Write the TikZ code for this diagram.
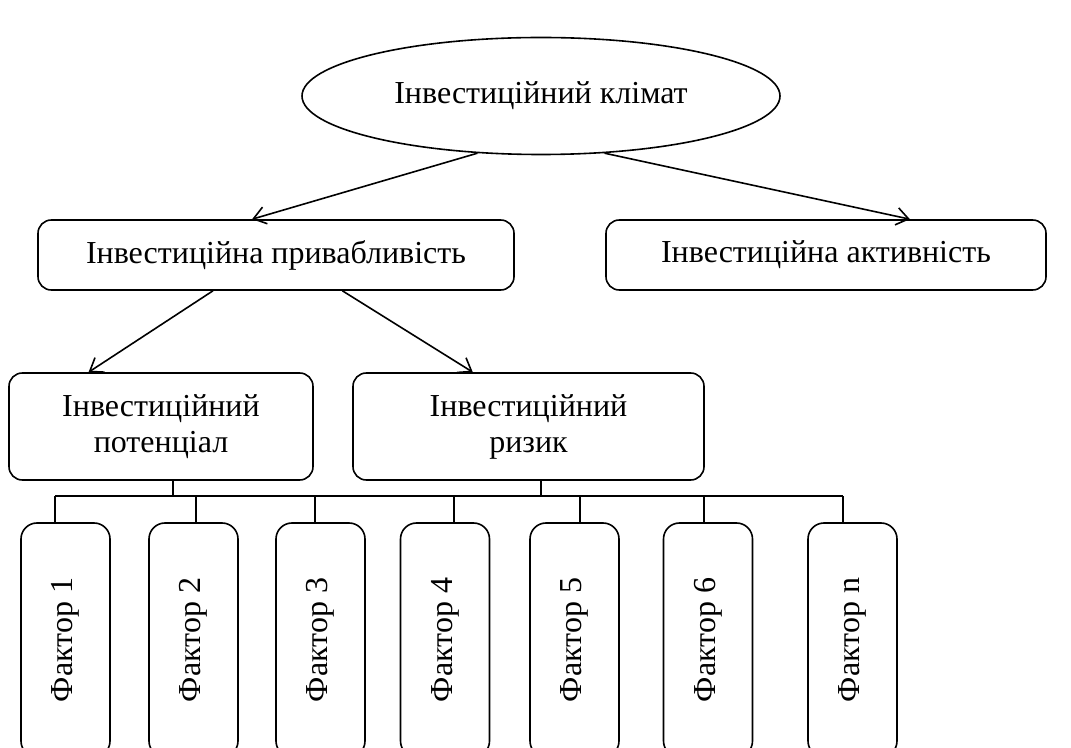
\documentclass[tikz,border=0pt]{standalone}
\usepackage{fontspec}
\setmainfont{Liberation Serif}
\usetikzlibrary{shapes.geometric,arrows.meta}
\usetikzlibrary{calc}
\usetikzlibrary{positioning}

\begin{document}
\begin{tikzpicture}[x=0.75pt,y=-0.75pt,line width=1.2pt,
	font=\fontsize{24}{27}\selectfont,
	box/.style={draw,rounded corners=10pt,align=center,inner sep=0pt},
	factor/.style={draw,rounded corners=12pt,inner sep=0pt,minimum width=66.75pt,minimum height=175.5pt},
	arr/.style={-{Straight Barb[length=9pt,width=13pt]}}]
			\useasboundingbox (0,0) rectangle (1071,748);
			%top ellipse and first level
			\node[draw,ellipse,minimum width=358.5pt,minimum height=87.75pt] (climate) at (541,96) {Інвестиційний клімат};
			\node[box,minimum width=357pt,minimum height=52.5pt] (attract) at (276,255) {Інвестиційна привабливість};
			\node[box,minimum width=330pt,minimum height=52.5pt] (activity) at (826,255) {Інвестиційна активність};
			\draw[arr] (climate.222)--($(attract.north west)!0.45!(attract.north east)$);
			\draw[arr] (climate.318)--($(activity.north west)!0.69!(activity.north east)$);
			%second level
			\node[box,minimum width=228pt,minimum height=80.25pt] (potential) at (161,426.5) {Інвестиційний\\потенціал};
			\node[box,minimum width=263.25pt,minimum height=80.25pt] (risk) at (528.5,426.5) {Інвестиційний\\ризик};
			\draw[arr] ($(attract.south west)!0.368!(attract.south east)$)--($(potential.north west)!0.263!(potential.north east)$);
			\draw[arr] ($(attract.south west)!0.639!(attract.south east)$)--($(risk.north west)!0.342!(risk.north east)$);
			%factors
			\node[factor] (f1) at (65.5,640) {\rotatebox{90}{Фактор 1}};
			\node[factor] (f2) at (193.5,640) {\rotatebox{90}{Фактор 2}};
			\node[factor] (f3) at (320.5,640) {\rotatebox{90}{Фактор 3}};
			\node[factor] (f4) at (445,640) {\rotatebox{90}{Фактор 4}};
			\node[factor] (f5) at (574.5,640) {\rotatebox{90}{Фактор 5}};
			\node[factor] (f6) at (708,640) {\rotatebox{90}{Фактор 6}};
			\node[factor] (fn) at (852.5,640) {\rotatebox{90}{Фактор n}};
			%bus line
			\coordinate (pot_out) at ($(potential.south west)!0.54!(potential.south east)$);
			\coordinate (risk_out) at ($(risk.south west)!0.536!(risk.south east)$);
			\coordinate (bus_1) at (55,496);
			\coordinate (bus_2) at (196,496);
			\coordinate (bus_3) at (315,496);
			\coordinate (bus_4) at (454,496);
			\coordinate (bus_5) at (580,496);
			\coordinate (bus_6) at (704,496);
			\coordinate (bus_n) at (843,496);
			\draw (bus_1)--(bus_n);
			\draw (pot_out)--(pot_out|-bus_1);
			\draw (risk_out)--(risk_out|-bus_1);
			\draw (bus_1)--(bus_1|-f1.north);
			\draw (bus_2)--(bus_2|-f2.north);
			\draw (bus_3)--(bus_3|-f3.north);
			\draw (bus_4)--(bus_4|-f4.north);
			\draw (bus_5)--(bus_5|-f5.north);
			\draw (bus_6)--(bus_6|-f6.north);
			\draw (bus_n)--(bus_n|-fn.north);
\end{tikzpicture}
\end{document}
